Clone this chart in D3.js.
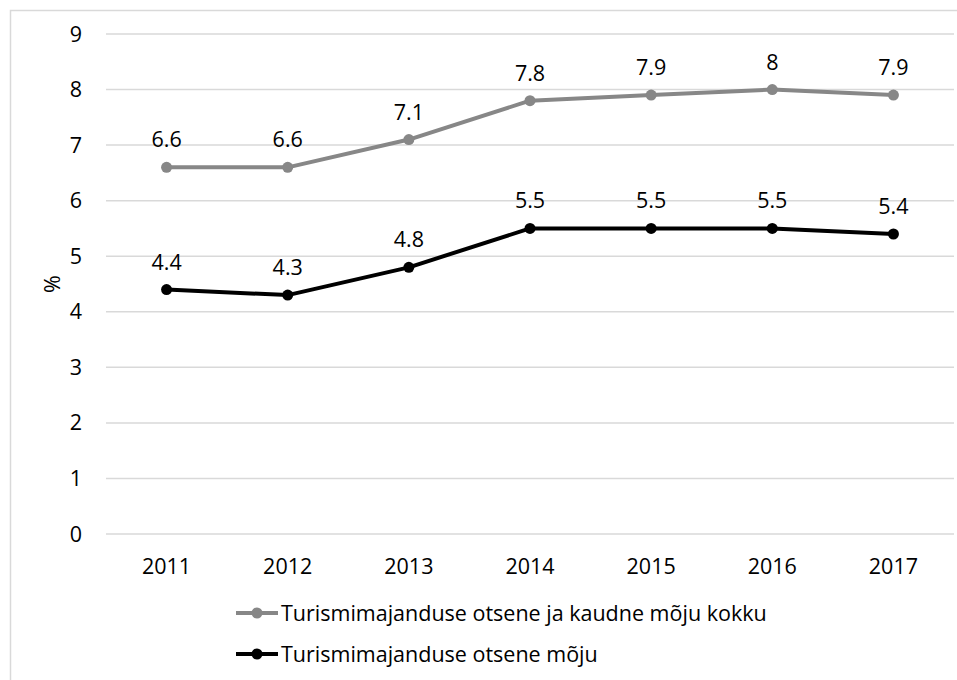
<!DOCTYPE html>
<html>
<head>
<meta charset="utf-8">
<script src="https://cdn.jsdelivr.net/npm/d3@7"></script>
<style>
  body { margin: 0; background: #fff; }
  svg { font-family: "Open Sans", sans-serif; }
</style>
</head>
<body>
<div id="chart"></div>
<script>
const years = ['2011', '2012', '2013', '2014', '2015', '2016', '2017'];
const totalImpact = [6.6, 6.6, 7.1, 7.8, 7.9, 8, 7.9];
const directImpact = [4.4, 4.3, 4.8, 5.5, 5.5, 5.5, 5.4];
const yTicks = [0, 1, 2, 3, 4, 5, 6, 7, 8, 9];
const seriesNames = ['Turismimajanduse otsene ja kaudne mõju kokku', 'Turismimajanduse otsene mõju'];
const seriesColors = ['#878787', '#000000'];

const width = 957;
const height = 680;
const margin = { top: 34, right: 3, bottom: 146, left: 106 };
const fontSize = 21.5;

const svg = d3.select('#chart').append('svg')
  .attr('width', width)
  .attr('height', height);

// outer frame
svg.append('rect')
  .attr('x', 10.5)
  .attr('y', 10.5)
  .attr('width', width + 20)
  .attr('height', height + 20)
  .attr('fill', 'none')
  .attr('stroke', '#d9d9d9')
  .attr('stroke-width', 1.5);

const x = d3.scaleBand()
  .domain(years)
  .range([margin.left, width - margin.right]);

const y = d3.scaleLinear()
  .domain([0, 9])
  .range([height - margin.bottom, margin.top]);

// gridlines
svg.append('g')
  .selectAll('line')
  .data(yTicks)
  .enter()
  .append('line')
  .attr('x1', margin.left)
  .attr('x2', width - margin.right)
  .attr('y1', d => y(d))
  .attr('y2', d => y(d))
  .attr('stroke', '#d9d9d9')
  .attr('stroke-width', 1.5);

// y axis labels
svg.append('g')
  .selectAll('text')
  .data(yTicks)
  .enter()
  .append('text')
  .attr('x', 82)
  .attr('y', d => y(d))
  .attr('dy', '0.35em')
  .attr('text-anchor', 'end')
  .attr('font-size', fontSize)
  .attr('fill', '#000')
  .text(d => d);

// x axis labels
svg.append('g')
  .selectAll('text')
  .data(years)
  .enter()
  .append('text')
  .attr('x', d => x(d) + x.bandwidth() / 2)
  .attr('y', 574)
  .attr('text-anchor', 'middle')
  .attr('font-size', fontSize)
  .attr('fill', '#000')
  .text(d => d);

// y axis title
svg.append('text')
  .attr('transform', 'translate(52,' + y(4.5) + ') rotate(-90)')
  .attr('text-anchor', 'middle')
  .attr('dy', '0.35em')
  .attr('font-size', fontSize)
  .text('%');

const line = d3.line()
  .x((d, i) => x(years[i]) + x.bandwidth() / 2)
  .y(d => y(d));

[totalImpact, directImpact].forEach((values, s) => {
  const g = svg.append('g');

  g.append('path')
    .datum(values)
    .attr('d', line)
    .attr('fill', 'none')
    .attr('stroke', seriesColors[s])
    .attr('stroke-width', 4)
    .attr('stroke-linejoin', 'round');

  g.selectAll('circle')
    .data(values)
    .enter()
    .append('circle')
    .attr('cx', (d, i) => x(years[i]) + x.bandwidth() / 2)
    .attr('cy', d => y(d))
    .attr('r', 5.5)
    .attr('fill', seriesColors[s]);

  g.selectAll('text')
    .data(values)
    .enter()
    .append('text')
    .attr('x', (d, i) => x(years[i]) + x.bandwidth() / 2)
    .attr('y', d => y(d) - 20)
    .attr('text-anchor', 'middle')
    .attr('font-size', fontSize)
    .attr('fill', '#000')
    .text(d => d);
});

// legend
const legend = svg.append('g')
  .selectAll('g')
  .data(seriesNames)
  .enter()
  .append('g')
  .attr('transform', (d, i) => 'translate(236,' + (613 + i * 41) + ')');

legend.append('line')
  .attr('x1', 0)
  .attr('x2', 42)
  .attr('stroke', (d, i) => seriesColors[i])
  .attr('stroke-width', 4);

legend.append('circle')
  .attr('cx', 21)
  .attr('r', 5.5)
  .attr('fill', (d, i) => seriesColors[i]);

legend.append('text')
  .attr('x', 45)
  .attr('dy', '0.35em')
  .attr('font-size', fontSize)
  .attr('fill', '#000')
  .text(d => d);
</script>
</body>
</html>
